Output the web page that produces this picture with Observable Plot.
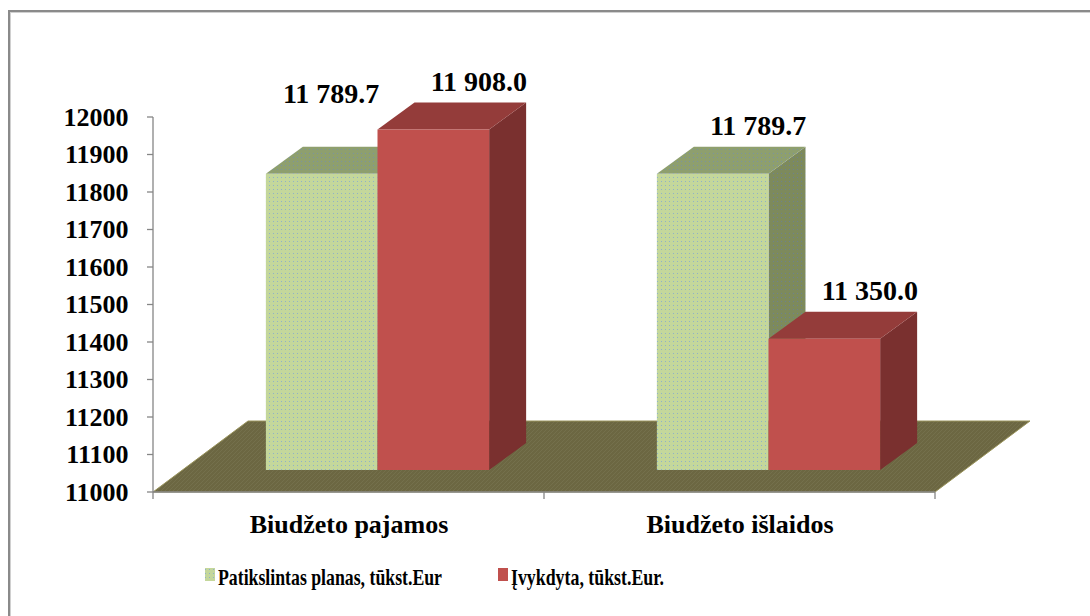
<!DOCTYPE html>
<html>
<head>
<meta charset="utf-8">
<script src="https://cdn.jsdelivr.net/npm/d3@7"></script>
<script src="https://cdn.jsdelivr.net/npm/@observablehq/plot@0.6"></script>
<style>
html, body { margin: 0; padding: 0; overflow: hidden; background: #fff; width: 1090px; height: 616px; }
#frame { position: absolute; left: 8px; top: 10px; width: 1300px; height: 900px;
  border-top: 2px solid #8a8a8a; border-left: 2px solid #8a8a8a; box-shadow: inset 1px 1px 0 #d0d0d0; }
#chart { position: absolute; left: 0; top: 0; }
#legend { position: absolute; left: 0; top: 548px; }
</style>
</head>
<body>
<svg width="0" height="0" style="position:absolute">
  <defs>
    <pattern id="dotsFront" width="4" height="4" patternUnits="userSpaceOnUse">
      <rect width="4" height="4" fill="#c4d79b"/>
      <rect x="1" y="1" width="1" height="1" fill="#8fb2c8"/>
    </pattern>
    <pattern id="dotsTop" width="4" height="4" patternUnits="userSpaceOnUse">
      <rect width="4" height="4" fill="#8e9f6e"/>
      <rect x="1" y="1" width="1" height="1" fill="#7a93a0"/>
    </pattern>
    <pattern id="dotsSide" width="4" height="4" patternUnits="userSpaceOnUse">
      <rect width="4" height="4" fill="#7d8a5c"/>
      <rect x="1" y="1" width="1" height="1" fill="#6c8190"/>
    </pattern>
    <pattern id="floorPat" width="4" height="4" patternUnits="userSpaceOnUse">
      <rect width="4" height="4" fill="#6c6742"/>
      <path d="M0,4L4,0" stroke="#76724f" stroke-width="0.8"/>
    </pattern>
  </defs>
</svg>
<div id="frame"></div>
<div id="chart"></div>
<svg id="legend" width="1090" height="68"></svg>
<script>
// ---- data ----
const categories = ["Biudžeto pajamos", "Biudžeto išlaidos"];
const seriesNames = ["Patikslintas planas, tūkst.Eur", "Įvykdyta, tūkst.Eur."];
const planValues = [11789.7, 11789.7];
const actualValues = [11908.0, 11350.0];
const yTicks = [11000, 11100, 11200, 11300, 11400, 11500, 11600, 11700, 11800, 11900, 12000];

// ---- table built from the arrays ----
const rows = categories.flatMap((c, i) => [
  {cat: c, s: 0, series: seriesNames[0], value: planValues[i]},
  {cat: c, s: 1, series: seriesNames[1], value: actualValues[i]}
]);
const base = yTicks[0];

// ---- styling / 3D geometry ----
const W = 1090, H = 548;
const M = {top: 117, bottom: 56, left: 152, right: 155};
const FLOOR = [95, -71];   // floor depth vector (px)
const FRONT = [29, -22];   // bar front plane offset
const DEPTH = [37, -27];   // bar depth vector
const BARW = 0.2855;       // bar width as fraction of category band
const faces = [
  {front: "url(#dotsFront)", top: "url(#dotsTop)", side: "url(#dotsSide)"},
  {front: "#c0504d", top: "#943c3a", side: "#7a302f"}
];
const axisGrey = "#868686";
const font = "'Liberation Serif', 'Times New Roman', serif";

const fmt = v => {
  const [i, f] = v.toFixed(1).split(".");
  return i.replace(/\B(?=(\d{3})+(?!\d))/g, " ") + "." + f;
};

function floorMark(index, scales) {
  const {x, y} = scales;
  const step = x(categories[1]) - x(categories[0]);
  const x0 = x(categories[0]);
  const x1 = x(categories[categories.length - 1]) + step;
  const yb = y(base), yt = y(yTicks[yTicks.length - 1]);
  const g = d3.create("svg:g");
  g.append("path")
    .attr("d", `M${x0},${yb}L${x1},${yb}L${x1 + FLOOR[0]},${yb + FLOOR[1]}L${x0 + FLOOR[0]},${yb + FLOOR[1]}Z`)
    .attr("fill", "url(#floorPat)")
    .attr("stroke", "#9a945c")
    .attr("stroke-width", 1);
  // value axis line and ticks
  g.append("line").attr("x1", x0).attr("x2", x0).attr("y1", yt).attr("y2", yb)
    .attr("stroke", axisGrey).attr("stroke-width", 1.3);
  for (const t of yTicks) {
    g.append("line").attr("x1", x0 - 6).attr("x2", x0).attr("y1", y(t)).attr("y2", y(t))
      .attr("stroke", axisGrey).attr("stroke-width", 1.3);
  }
  // category axis line and boundary ticks
  g.append("line").attr("x1", x0).attr("x2", x1).attr("y1", yb).attr("y2", yb)
    .attr("stroke", axisGrey).attr("stroke-width", 1.3);
  const edges = categories.map(c => x(c)).concat([x1]);
  for (const e of edges) {
    g.append("line").attr("x1", e).attr("x2", e).attr("y1", yb).attr("y2", yb + 7)
      .attr("stroke", axisGrey).attr("stroke-width", 1.3);
  }
  return g.node();
}

function barsMark(index, scales) {
  const {x, y} = scales;
  const step = x(categories[1]) - x(categories[0]);
  const bw = step * BARW;
  const [dx, dy] = DEPTH;
  const g = d3.create("svg:g");
  for (const d of rows) {
    const xl = x(d.cat) + step / 2 + (d.s - 1) * bw + FRONT[0];
    const xr = xl + bw;
    const yt = y(d.value) + FRONT[1];
    const yb = y(base) + FRONT[1];
    const f = faces[d.s];
    g.append("path")
      .attr("d", `M${xr},${yt}L${xr + dx},${yt + dy}L${xr + dx},${yb + dy}L${xr},${yb}Z`)
      .attr("fill", f.side);
    g.append("path")
      .attr("d", `M${xl},${yt}L${xl + dx},${yt + dy}L${xr + dx},${yt + dy}L${xr},${yt}Z`)
      .attr("fill", f.top);
    g.append("rect")
      .attr("x", xl).attr("y", yt).attr("width", bw).attr("height", yb - yt)
      .attr("fill", f.front);
  }
  return g.node();
}

// label placement: above the back of the bar top; a lower bar next to a taller one gets moved up-left
const stepPx = (W - M.left - M.right) / categories.length;
const bwPx = stepPx * BARW;
const labelDx = s => (s - 0.5) * bwPx + FRONT[0] + DEPTH[0] + 8;
const labelDy = FRONT[1] + DEPTH[1] - 12;
const crowded = d => d.s === 0 && rows.some(r => r.cat === d.cat && r.s === 1 && r.value > d.value);
const textOpts = {x: "cat", y: "value", text: d => fmt(d.value), fontSize: 28, fontWeight: "bold",
  fontFamily: font, fill: "black", lineAnchor: "bottom", textAnchor: "middle"};

const chart = Plot.plot({
  width: W, height: H,
  marginTop: M.top, marginBottom: M.bottom, marginLeft: M.left, marginRight: M.right,
  style: {background: "transparent", fontFamily: font, fontSize: "26px", fontWeight: "bold", color: "black", overflow: "visible"},
  x: {type: "band", domain: categories, padding: 0, tickSize: 0, tickPadding: 22, label: null},
  y: {domain: [yTicks[0], yTicks[yTicks.length - 1]], ticks: yTicks, tickFormat: d => String(d), tickSize: 0, tickPadding: 24, label: null},
  marks: [
    floorMark,
    barsMark,
    Plot.text(rows, {...textOpts, filter: d => d.s === 1, dx: labelDx(1), dy: labelDy}),
    Plot.text(rows, {...textOpts, filter: d => d.s === 0 && !crowded(d), dx: labelDx(0), dy: labelDy}),
    Plot.text(rows, {...textOpts, filter: d => crowded(d), dx: labelDx(0) - 36, dy: labelDy - 32})
  ]
});
document.getElementById("chart").appendChild(chart);

// ---- legend below the chart ----
const legend = d3.select("#legend");
const legendItems = [
  {name: seriesNames[0], fill: "url(#dotsFront)", x: 205, len: 224},
  {name: seriesNames[1], fill: faces[1].front, x: 498, len: 153}
];
for (const it of legendItems) {
  legend.append("rect").attr("x", it.x).attr("y", 20).attr("width", 10).attr("height", 13).attr("fill", it.fill);
  legend.append("text").attr("x", it.x + 13).attr("y", 37)
    .attr("font-family", font).attr("font-size", 23).attr("font-weight", "bold")
    .attr("textLength", it.len).attr("lengthAdjust", "spacingAndGlyphs")
    .text(it.name);
}
</script>
</body>
</html>
